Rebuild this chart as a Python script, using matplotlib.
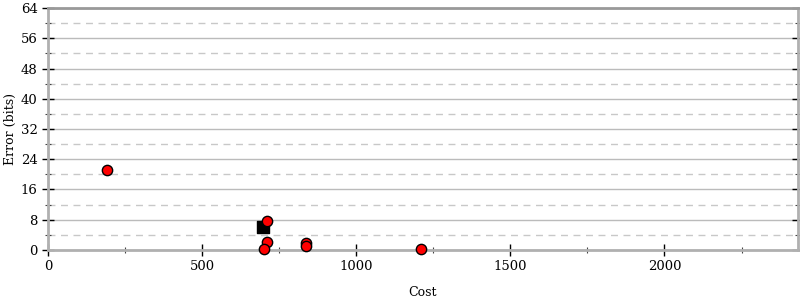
import matplotlib
matplotlib.use("Agg")
import matplotlib.pyplot as plt
from matplotlib.ticker import MultipleLocator

red_cost = [192, 710, 710, 702, 838, 838, 1211]
red_err = [21.2, 7.75, 2.04, 0.26, 1.77, 1.06, 0.19]
sq_cost = [698]
sq_err = [6.1]

plt.rcParams['font.family'] = ['DejaVu Serif']
fig = plt.figure(figsize=(8, 3), dpi=100)
ax = fig.add_axes([0.06, 0.167, 0.937, 0.806])

ax.set_xlim(0, 2432)
ax.set_ylim(0, 64)
ax.xaxis.set_major_locator(MultipleLocator(500))
ax.xaxis.set_minor_locator(MultipleLocator(250))
ax.yaxis.set_major_locator(MultipleLocator(8))
ax.yaxis.set_minor_locator(MultipleLocator(4))

ax.grid(which='major', axis='y', color='#bbbbbb', linewidth=1, linestyle='-')
ax.grid(which='minor', axis='y', color='#c8c8c8', linewidth=1, linestyle=(0, (5, 4)))
ax.set_axisbelow(True)

for s in ['left', 'right', 'bottom']:
    ax.spines[s].set_color('#b0b0b0')
    ax.spines[s].set_linewidth(2)
ax.spines['top'].set_color('#999999')
ax.spines['top'].set_linewidth(2)

ax.tick_params(which='major', direction='inout', length=8, width=1, color='black',
               labelsize=9.5, left=True, right=True, bottom=True, top=False)
ax.tick_params(which='minor', direction='inout', length=4, width=0.8, color='#444444',
               left=True, right=True, bottom=True, top=False)

ax.scatter(sq_cost, sq_err, marker='s', s=80, color='black', zorder=3)
ax.scatter(red_cost, red_err, marker='o', s=55, color='red', edgecolors='black',
           linewidths=1, zorder=4, clip_on=False)

ax.set_xlabel('Cost', fontsize=9, labelpad=9)
ax.set_ylabel('Error (bits)', fontsize=9)
ax.yaxis.set_label_coords(-0.041, 0.5)

fig.savefig('out.png', dpi=100)
